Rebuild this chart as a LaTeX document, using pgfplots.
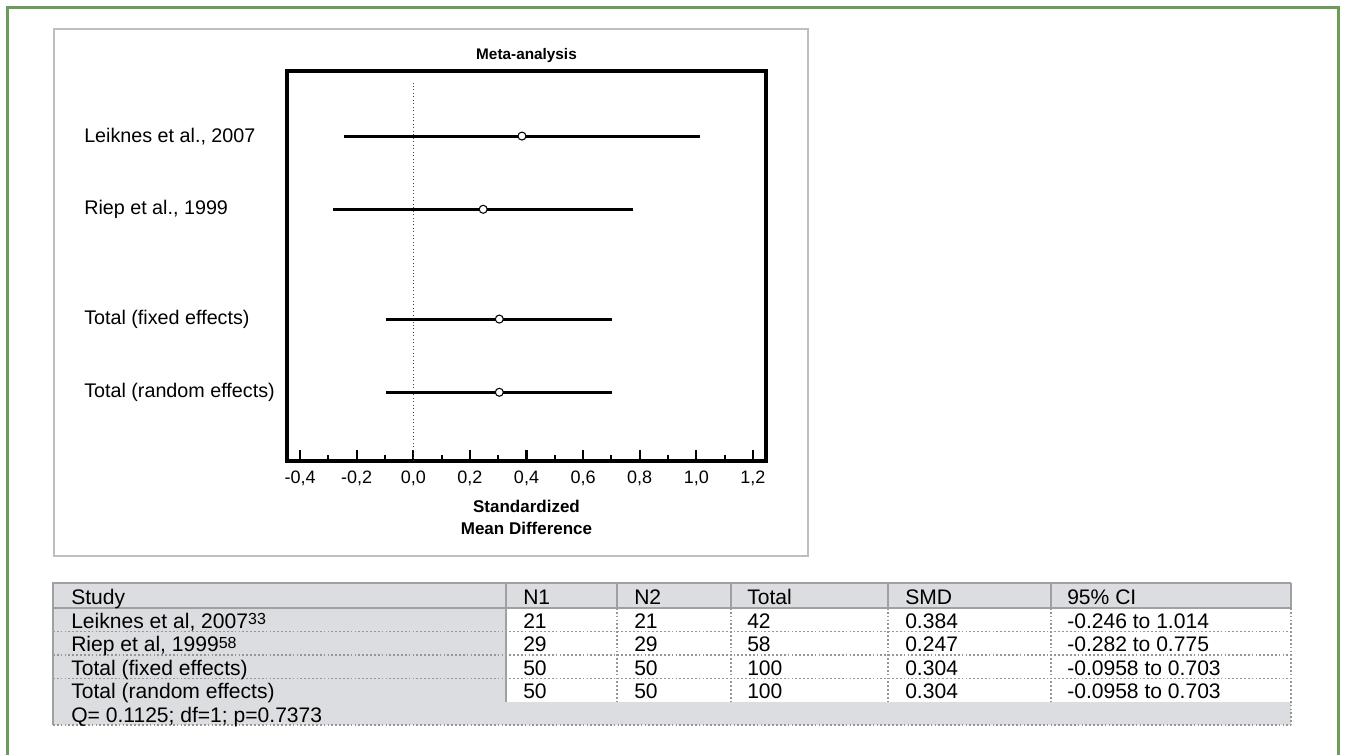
\documentclass[border=0pt]{standalone}
\usepackage{fontspec}
\setmainfont{Liberation Sans}
\usepackage{pgfplots}
\usepackage{pgfplotstable}
\pgfplotsset{compat=1.18}
\definecolor{framegreen}{RGB}{106,156,90}
\definecolor{boxgray}{RGB}{190,190,190}
\definecolor{tabgray}{RGB}{220,221,224}
\definecolor{linegray}{RGB}{160,160,162}
\definecolor{dotgray}{RGB}{150,150,150}

\pgfplotstableread{
pos smd lo hi
3.5 0.384 -0.246 1.014
2.5 0.247 -0.282 0.775
1 0.304 -0.0958 0.703
0 0.304 -0.0958 0.703
}\forestdata

\newcommand\plf{\fontsize{14.8}{17}\selectfont}
\newcommand\tbf{\fontsize{15.8}{18}\selectfont}
\newcommand\refsup[1]{\raisebox{2.6pt}{\fontsize{12}{13}\selectfont #1}}

\begin{document}
\begin{tikzpicture}[x=0.75pt,y=-0.75pt]
\path[use as bounding box] (0,0) rectangle (1347,755);
% outer green frame (open at the bottom)
\draw[framegreen, line width=2.2pt] (7.5,770) -- (7.5,7.5) -- (1338.5,7.5) -- (1338.5,770);
% gray box round the plot
\draw[boxgray, line width=1.5pt] (54,29.5) rectangle (808,556);

\begin{axis}[
  at={(215.25pt,-345.75pt)}, anchor=south west,
  scale only axis, width=359.25pt, height=292.5pt,
  xmin=-0.446, xmax=1.246, ymin=-0.939, ymax=4.389,
  axis line style={line width=2.3pt, black},
  xtick={-0.4,-0.2,0,0.2,0.4,0.6,0.8,1.0,1.2},
  minor x tick num=1,
  ytick=\empty,
  xtick pos=left,
  tick align=inside,
  major tick length=8.3pt, minor tick length=4.5pt,
  major tick style={line width=1.6pt, black},
  minor tick style={line width=1.6pt, black},
  xticklabel style={font=\fontsize{13.5}{15}\selectfont, anchor=base, yshift=-16.7pt,
    /pgf/number format/.cd, fixed, fixed zerofill, precision=1, use comma, assume math mode=true},
]
\addplot[black!75, line width=0.6pt, dotted, forget plot] coordinates {(0,-0.939) (0,4.225)};
\addplot[draw=none, mark=none, forget plot,
  error bars/.cd, x dir=both, x explicit, error mark=none,
  error bar style={line width=2.2pt, black}]
  table[x=smd, y=pos,
    x error plus expr=\thisrow{hi}-\thisrow{smd},
    x error minus expr=\thisrow{smd}-\thisrow{lo}] {\forestdata};
\addplot[only marks, mark=*, mark size=3pt,
  mark options={fill=white, draw=black, line width=0.8pt}]
  table[x=smd, y=pos] {\forestdata};
\end{axis}

% plot texts
\node[anchor=base, inner sep=0pt, font=\bfseries\fontsize{11.5}{13}\selectfont] at (526.5,59.5) {Meta-analysis};
\node[anchor=base, inner sep=0pt, font=\bfseries\fontsize{12.75}{15}\selectfont] at (526.5,512.7) {Standardized};
\node[anchor=base, inner sep=0pt, font=\bfseries\fontsize{12.75}{15}\selectfont] at (526.5,535) {Mean Difference};
\node[anchor=base west, inner sep=0pt, font=\plf] at (84,142.5) {Leiknes et al., 2007};
\node[anchor=base west, inner sep=0pt, font=\plf] at (84,215) {Riep et al., 1999};
\node[anchor=base west, inner sep=0pt, font=\plf] at (84,324.3) {Total (fixed effects)};
\node[anchor=base west, inner sep=0pt, font=\plf] at (84,397.5) {Total (random effects)};

% table fills
\fill[tabgray] (53,583) rectangle (1291,608);
\fill[tabgray] (53,608) rectangle (506,701.6);
\fill[tabgray] (53,701.6) rectangle (1291,725);
% dotted lines
\begin{scope}[dotgray, line width=0.9pt, dash pattern=on 1.3pt off 1.6pt]
\foreach \yy in {631.5,655,678.3,725} {\draw (53,\yy) -- (1291,\yy);}
\foreach \xx in {617,731,888,1051} {\draw (\xx,608) -- (\xx,701.6);}
\draw (1291,608) -- (1291,725);
\end{scope}
% solid lines
\begin{scope}[linegray, line width=1.6pt]
\draw (53,583) -- (1291,583);
\draw (53,608) -- (1291,608);
\foreach \xx in {617,731,888,1051,1291} {\draw (\xx,583) -- (\xx,608);}
\draw (506,583) -- (506,701.6);
\draw (53,582.2) -- (53,725);
\end{scope}

% table text
\begin{scope}[every node/.style={anchor=base west, inner sep=0pt, font=\tbf}]
\node at (71,604.5) {Study};
\node at (523,604.5) {N1};
\node at (634,604.5) {N2};
\node at (747,604.5) {Total};
\node at (905,604.5) {SMD};
\node at (1067,604.5) {95\% CI};
\node at (71,628.3) {Leiknes et al, 2007\refsup{33}};
\node at (71,651.8) {Riep et al, 1999\refsup{58}};
\node at (71,675.2) {Total (fixed effects)};
\node at (71,698.5) {Total (random effects)};
\node at (71,722) {Q= 0.1125; df=1; p=0.7373};
\node at (523,628.3) {21};   \node at (634,628.3) {21};   \node at (747,628.3) {42};
\node at (905,628.3) {0.384}; \node at (1067,628.3) {-0.246 to 1.014};
\node at (523,651.8) {29};   \node at (634,651.8) {29};   \node at (747,651.8) {58};
\node at (905,651.8) {0.247}; \node at (1067,651.8) {-0.282 to 0.775};
\node at (523,675.2) {50};   \node at (634,675.2) {50};   \node at (747,675.2) {100};
\node at (905,675.2) {0.304}; \node at (1067,675.2) {-0.0958 to 0.703};
\node at (523,698.5) {50};   \node at (634,698.5) {50};   \node at (747,698.5) {100};
\node at (905,698.5) {0.304}; \node at (1067,698.5) {-0.0958 to 0.703};
\end{scope}
\end{tikzpicture}
\end{document}
